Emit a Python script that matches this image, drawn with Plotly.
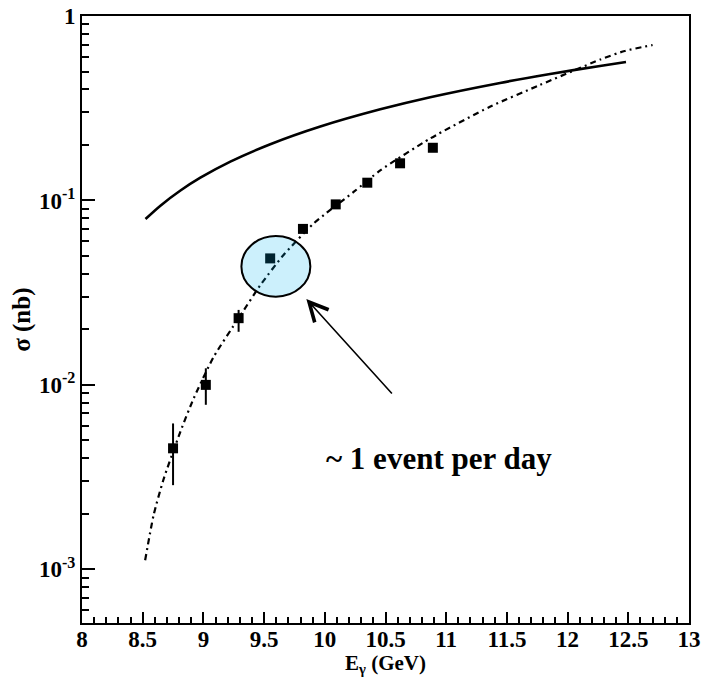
import plotly.graph_objects as go

# Measured cross sections (nb) vs photon energy (GeV)
e_gamma = [8.75, 9.02, 9.29, 9.55, 9.82, 10.09, 10.35, 10.62, 10.89]
sigma = [0.00453, 0.0100, 0.0230, 0.0485, 0.0701, 0.0952, 0.1248, 0.159, 0.193]
err_up = [0.00165, 0.0023, 0.0025, 0.0020, 0.0025, 0.0025, 0.0030, 0.0035, 0.0040]
err_down = [0.00167, 0.0022, 0.0036, 0.0020, 0.0025, 0.0025, 0.0030, 0.0035, 0.0040]

# Model curve (solid)
model_a_e = [8.523, 8.646, 8.811, 8.975, 9.222, 9.551, 9.963, 10.457, 10.868,
             11.444, 11.856, 12.267, 12.481]
model_a_sigma = [0.0793, 0.0937, 0.1132, 0.1328, 0.1623, 0.2017, 0.2516, 0.3119,
                 0.3628, 0.4337, 0.4848, 0.5362, 0.5629]

# Fit curve (dash-dot)
model_b_e = [8.52, 8.59, 8.67, 8.81, 8.92, 9.085, 9.29, 9.47, 9.66, 9.91, 10.24,
             10.46, 10.87, 11.36, 11.77, 12.27, 12.47, 12.70]
model_b_sigma = [0.00112, 0.00197, 0.00305, 0.00557, 0.00845, 0.0142, 0.0230, 0.0348,
                 0.0506, 0.0752, 0.1115, 0.146, 0.217, 0.322, 0.422, 0.581, 0.646, 0.696]

x_ticks = [8, 8.5, 9, 9.5, 10, 10.5, 11, 11.5, 12, 12.5, 13]
x_ticklabels = ["8", "8.5", "9", "9.5", "10", "10.5", "11", "11.5", "12", "12.5", "13"]
y_ticks = [0.001, 0.01, 0.1, 1]
y_ticklabels = ["10<sup>-3</sup>", "10<sup>-2</sup>", "10<sup>-1</sup>", "1"]
y_minor = [m * 10.0 ** d for d in range(-4, 0) for m in range(2, 10)]

serif = "Liberation Serif"

fig = go.Figure()

fig.add_trace(go.Scatter(
    x=model_a_e, y=model_a_sigma, mode="lines",
    line=dict(color="black", width=2.6, shape="spline", smoothing=0.8),
    showlegend=False, hoverinfo="skip",
))

fig.add_trace(go.Scatter(
    x=model_b_e, y=model_b_sigma, mode="lines",
    line=dict(color="black", width=2.2, shape="spline", smoothing=0.6,
              dash="6px,4px,2px,4px"),
    showlegend=False, hoverinfo="skip",
))

fig.add_trace(go.Scatter(
    x=e_gamma, y=sigma, mode="markers",
    marker=dict(symbol="square", size=10, color="black"),
    error_y=dict(type="data", symmetric=False, array=err_up, arrayminus=err_down,
                 color="black", thickness=2, width=0),
    showlegend=False,
))

# Highlighted point region
fig.add_shape(
    type="circle", xref="x", yref="y",
    x0=9.313, x1=9.881, y0=10 ** -1.522, y1=10 ** -1.193,
    line=dict(color="black", width=2),
    fillcolor="rgba(0,180,240,0.2)", layer="above",
)

# Arrow pointing at the highlighted region (log10 coordinates on the y axis)
fig.add_annotation(
    x=9.848, y=-1.535, ax=10.564, ay=-2.055,
    xref="x", yref="y", axref="x", ayref="y",
    text="", showarrow=True, arrowhead=5, arrowsize=2.3, arrowwidth=1.6,
    arrowcolor="black",
)

fig.add_annotation(
    x=10.942, y=-2.40, xref="x", yref="y",
    text="~ 1 event per day", showarrow=False,
    font=dict(family=serif, size=31, color="black", weight="bold"),
)

# Axis titles
fig.add_annotation(
    x=0.5, y=-0.0675, xref="paper", yref="paper",
    xanchor="center", yanchor="middle",
    text="E<sub>γ</sub> (GeV)", showarrow=False,
    font=dict(family=serif, size=21, color="black", weight="bold"),
)
fig.add_annotation(
    x=-0.1, y=0.5, xref="paper", yref="paper",
    xanchor="center", yanchor="middle", textangle=-90,
    text="σ (nb)", showarrow=False,
    font=dict(family=serif, size=25, color="black", weight="bold"),
)

axis_common = dict(
    showline=True, linecolor="black", linewidth=2, mirror=True,
    ticks="inside", tickcolor="black", tickwidth=2,
    showgrid=False, zeroline=False, automargin=False,
    tickfont=dict(family=serif, size=23, color="black", weight="bold"),
)

fig.update_xaxes(
    range=[8, 13], tickmode="array", tickvals=x_ticks, ticktext=x_ticklabels,
    ticklen=11, ticklabelstandoff=-6,
    minor=dict(dtick=0.1, ticks="inside", ticklen=6, tickwidth=2, tickcolor="black", showgrid=False),
    **axis_common,
)

fig.update_yaxes(
    type="log", range=[-3.291, 0], tickmode="array", tickvals=y_ticks, ticktext=y_ticklabels,
    ticklen=13,
    minor=dict(tickvals=y_minor, ticks="inside", ticklen=7, tickwidth=2, tickcolor="black", showgrid=False),
    **axis_common,
)

fig.update_layout(
    width=702, height=689,
    margin=dict(l=82, r=13, t=16, b=66),
    paper_bgcolor="white", plot_bgcolor="white",
    font=dict(family=serif),
)

fig.write_html("out.html", config={"displayModeBar": False})
